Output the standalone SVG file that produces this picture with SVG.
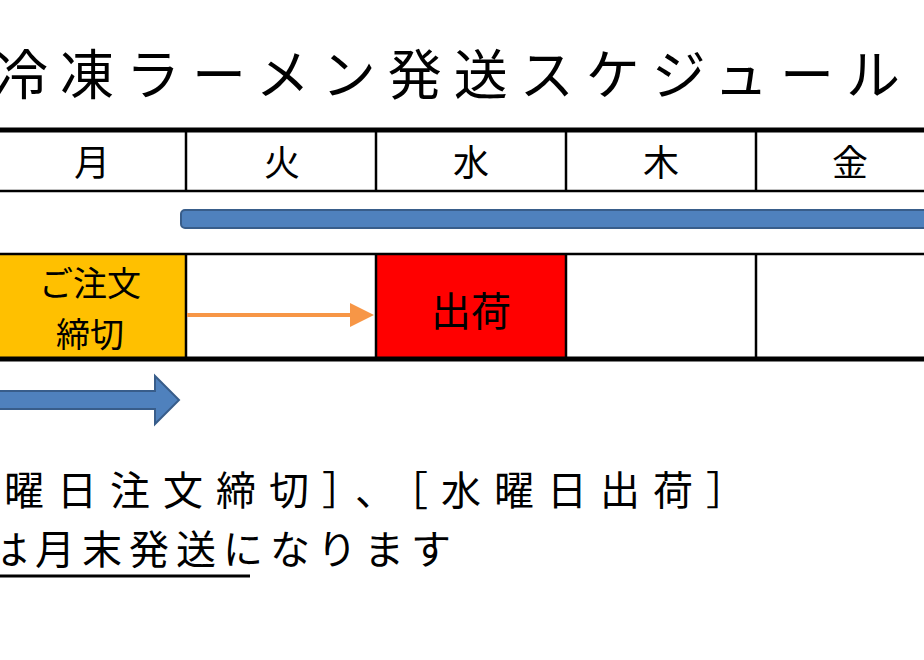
<svg xmlns="http://www.w3.org/2000/svg" width="924" height="660" viewBox="0 0 924 660">
<style>
text{font-family:"Noto Sans CJK JP","Noto Sans",sans-serif;fill:#000}
.h{font-size:36px;text-anchor:middle}
.c{font-size:34px;text-anchor:middle}
.line{stroke:#000;stroke-width:2.5}
.thick{stroke:#000;stroke-width:5}
</style>
<defs>
<marker id="oa" markerWidth="6" markerHeight="6" refX="5" refY="3" orient="auto" markerUnits="strokeWidth"><path d="M0,0L6,3L0,6z" fill="#f79646"/></marker>
</defs>
<rect width="924" height="660" fill="#fff"/>
<text x="-6" y="95" font-size="54" letter-spacing="12">冷凍ラーメン発送スケジュール</text>
<g id="header">
<line class="thick" x1="0" y1="130" x2="924" y2="130"/>
<line class="line" x1="0" y1="191" x2="924" y2="191"/>
<line class="line" x1="186" y1="130" x2="186" y2="191"/>
<line class="line" x1="376" y1="130" x2="376" y2="191"/>
<line class="line" x1="566" y1="130" x2="566" y2="191"/>
<line class="line" x1="756" y1="130" x2="756" y2="191"/>
<text class="h" x="92" y="176">月</text>
<text class="h" x="282" y="176">火</text>
<text class="h" x="471" y="176">水</text>
<text class="h" x="661" y="176">木</text>
<text class="h" x="850" y="176">金</text>
</g>
<g id="deadline"><rect x="0" y="255" width="186" height="103" fill="#ffc000"/>
<text class="c" x="90" y="296">ご注文</text><text class="c" x="90" y="347">締切</text></g>
<g id="ship"><rect x="376" y="255" width="190" height="103" fill="#ff0000"/>
<text x="471" y="326" font-size="40" text-anchor="middle">出荷</text></g>
<g id="grid">
<line class="line" x1="0" y1="254" x2="924" y2="254"/>
<line class="thick" x1="0" y1="359" x2="924" y2="359"/>
<line class="line" x1="186" y1="254" x2="186" y2="359"/>
<line class="line" x1="376" y1="254" x2="376" y2="359"/>
<line class="line" x1="566" y1="254" x2="566" y2="359"/>
<line class="line" x1="756" y1="254" x2="756" y2="359"/>
</g>
<g id="connectors">
<rect x="181" y="210" width="750" height="18" rx="4" fill="#4f81bd" stroke="#385d8a" stroke-width="2"/>
<path d="M-5,391H155V376L179,400L155,424V409H-5z" fill="#4f81bd" stroke="#385d8a" stroke-width="2"/>
<line x1="187" y1="315" x2="370" y2="315" stroke="#f79646" stroke-width="4" marker-end="url(#oa)"/>
</g>
<text x="4" y="505" font-size="40" letter-spacing="13">曜日注文締切］、［水曜日出荷］</text>
<text x="-12" y="564" font-size="40" letter-spacing="7">は月末発送になります</text>
<line x1="0" y1="576" x2="250" y2="576" stroke="#000" stroke-width="3"/>
</svg>
